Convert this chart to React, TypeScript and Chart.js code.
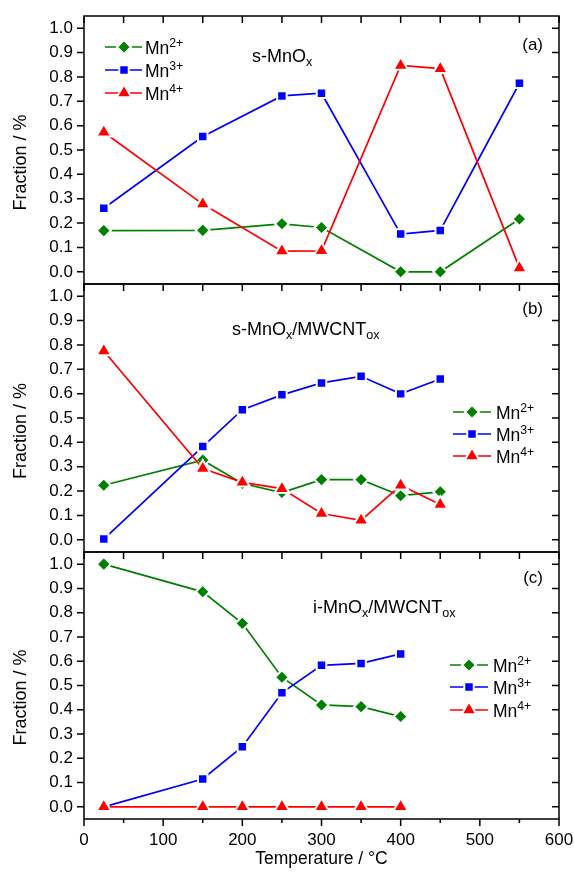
import React, { useEffect, useRef } from 'react';
import { Chart, registerables } from 'chart.js';

Chart.register(...registerables);

// ---------- data ----------
const X_TICKS = [0, 100, 200, 300, 400, 500, 600];
const X_MINOR_TICKS = [0, 50, 100, 150, 200, 250, 300, 350, 400, 450, 500, 550, 600];
const Y_TICKS = [0, 0.1, 0.2, 0.3, 0.4, 0.5, 0.6, 0.7, 0.8, 0.9, 1.0];

const TEMP_A = [25, 150, 250, 300, 400, 450, 550];
const MN2_A = [0.169, 0.17, 0.197, 0.182, 0.0, 0.0, 0.217];
const MN3_A = [0.261, 0.555, 0.722, 0.733, 0.155, 0.17, 0.774];
const MN4_A = [0.573, 0.278, 0.085, 0.086, 0.847, 0.834, 0.016];

const TEMP_B = [25, 150, 200, 250, 300, 350, 400, 450];
const MN2_B = [0.224, 0.327, 0.231, 0.194, 0.247, 0.247, 0.181, 0.197];
const MN3_B = [0.003, 0.383, 0.534, 0.595, 0.644, 0.671, 0.599, 0.66];
const MN4_B = [0.775, 0.293, 0.236, 0.21, 0.108, 0.08, 0.224, 0.145];

const TEMP_C = [25, 150, 200, 250, 300, 350, 400];
const MN2_C = [1.0, 0.886, 0.756, 0.534, 0.42, 0.413, 0.372];
const MN3_C = [0.0, 0.115, 0.248, 0.47, 0.583, 0.591, 0.63];
const MN4_C = [0, 0, 0, 0, 0, 0, 0];

const SERIES_CHARGES = ['2+', '3+', '4+'];
const PANEL_LABELS = ['(a)', '(b)', '(c)'];
const TITLE_A = [{ t: 's-MnO' }, { t: 'x', k: 'sub' }];
const TITLE_B = [{ t: 's-MnO' }, { t: 'x', k: 'sub' }, { t: '/MWCNT' }, { t: 'ox', k: 'sub' }];
const TITLE_C = [{ t: 'i-MnO' }, { t: 'x', k: 'sub' }, { t: '/MWCNT' }, { t: 'ox', k: 'sub' }];
const Y_TITLE = 'Fraction / %';
const X_TITLE = 'Temperature / °C';

// ---------- styles / layout ----------
const W = 574;
const H = 875;
const FONT = "'Liberation Sans', Arial, Helvetica, sans-serif";
const COLORS = ['#008000', '#0000ff', '#ff0000'];
const STYLES = ['rectRot', 'rect', 'triangle'];
const RADII = [7, 6.7, 8.5];
const LINE_W = 1.7;

type Part = { t: string; k?: 'sup' | 'sub' };

const LAYOUT = [
  {
    top: 16, bottom: 284, showX: false,
    labelY: 45, titleX: 252, titleY: 56,
    legX0: 105, legX1: 142, legMX: 124, legTX: 145, legY: [47, 70, 93],
    yTitleY: 162.5,
  },
  {
    top: 284, bottom: 552, showX: false,
    labelY: 309, titleX: 232, titleY: 329,
    legX0: 453, legX1: 491, legMX: 472, legTX: 496, legY: [412, 434, 456],
    yTitleY: 431,
  },
  {
    top: 552, bottom: 819, showX: true,
    labelY: 578, titleX: 313, titleY: 607,
    legX0: 450, legX1: 488, legMX: 469, legTX: 493, legY: [665, 687, 710],
    yTitleY: 697.5,
  },
];

const PANEL_DATA = [
  { temps: TEMP_A, series: [MN2_A, MN3_A, MN4_A], title: TITLE_A as Part[] },
  { temps: TEMP_B, series: [MN2_B, MN3_B, MN4_B], title: TITLE_B as Part[] },
  { temps: TEMP_C, series: [MN2_C, MN3_C, MN4_C], title: TITLE_C as Part[] },
];

const X_AXIS_H = 40;

function drawRich(ctx: CanvasRenderingContext2D, parts: Part[], x: number, baseline: number, size: number) {
  let cx = x;
  ctx.textAlign = 'left';
  ctx.textBaseline = 'alphabetic';
  for (const p of parts) {
    const s = p.k ? size * 0.7 : size;
    ctx.font = `${s}px ${FONT}`;
    const dy = p.k === 'sup' ? -size * 0.38 : p.k === 'sub' ? size * 0.22 : 0;
    ctx.fillText(p.t, cx, baseline + dy);
    cx += ctx.measureText(p.t).width;
  }
}

function drawMarker(ctx: CanvasRenderingContext2D, style: string, x: number, y: number, r: number, color: string) {
  ctx.beginPath();
  if (style === 'rectRot') {
    ctx.moveTo(x - r, y);
    ctx.lineTo(x, y - r);
    ctx.lineTo(x + r, y);
    ctx.lineTo(x, y + r);
  } else if (style === 'rect') {
    const s = r * Math.SQRT1_2;
    ctx.rect(x - s, y - s, 2 * s, 2 * s);
  } else {
    let a = 0;
    ctx.moveTo(x + Math.sin(a) * r, y - Math.cos(a) * r);
    a += (2 * Math.PI) / 3;
    ctx.lineTo(x + Math.sin(a) * r, y - Math.cos(a) * r);
    a += (2 * Math.PI) / 3;
    ctx.lineTo(x + Math.sin(a) * r, y - Math.cos(a) * r);
  }
  ctx.closePath();
  ctx.fillStyle = color;
  ctx.fill();
  ctx.lineWidth = 2;
  ctx.strokeStyle = '#ffffff';
  ctx.stroke();
}

function makePlugin(idx: number) {
  const L = LAYOUT[idx];
  const D = PANEL_DATA[idx];
  return {
    id: 'frame' + idx,
    afterDraw(chart: any) {
      const { ctx, chartArea } = chart;
      const { left, right, top, bottom } = chartArea;
      const xs = chart.scales.x;
      const ys = chart.scales.y;
      ctx.save();
      // frame
      ctx.strokeStyle = '#000';
      ctx.lineWidth = 1.5;
      ctx.strokeRect(left, top, right - left, bottom - top);
      ctx.beginPath();
      for (const v of Y_TICKS) {
        const py = ys.getPixelForValue(v);
        ctx.moveTo(left - 7, py);
        ctx.lineTo(left, py);
        ctx.moveTo(right - 7, py);
        ctx.lineTo(right, py);
      }
      for (const v of X_MINOR_TICKS) {
        const px = xs.getPixelForValue(v);
        ctx.moveTo(px, top);
        ctx.lineTo(px, top + 7);
        if (L.showX) {
          ctx.moveTo(px, bottom);
          ctx.lineTo(px, bottom + (v % 100 === 0 ? 7 : 4));
        }
      }
      ctx.stroke();

      ctx.fillStyle = '#000';
      // panel label
      ctx.font = `17px ${FONT}`;
      ctx.textAlign = 'right';
      ctx.textBaseline = 'middle';
      ctx.fillText(PANEL_LABELS[idx], 543, L.labelY);
      // title
      ctx.fillStyle = '#000';
      drawRich(ctx, D.title, L.titleX, L.titleY + 6, 18);
      // legend
      for (let s = 0; s < 3; s++) {
        const y = L.legY[s];
        ctx.strokeStyle = COLORS[s];
        ctx.lineWidth = LINE_W;
        ctx.beginPath();
        ctx.moveTo(L.legX0, y);
        ctx.lineTo(L.legX1, y);
        ctx.stroke();
        drawMarker(ctx, STYLES[s], L.legMX, y, RADII[s], COLORS[s]);
        ctx.fillStyle = '#000';
        drawRich(ctx, [{ t: 'Mn' }, { t: SERIES_CHARGES[s], k: 'sup' }], L.legTX, y + 6.5, 17.5);
      }
      // y title
      ctx.save();
      ctx.translate(21.5, L.yTitleY);
      ctx.rotate(-Math.PI / 2);
      ctx.font = `18px ${FONT}`;
      ctx.textAlign = 'center';
      ctx.textBaseline = 'middle';
      ctx.fillStyle = '#000';
      ctx.fillText(Y_TITLE, 0, 0);
      ctx.restore();
      // x title
      if (L.showX) {
        ctx.font = `17.5px ${FONT}`;
        ctx.textAlign = 'center';
        ctx.textBaseline = 'middle';
        ctx.fillStyle = '#000';
        ctx.fillText(X_TITLE, (left + right) / 2, 859);
      }
      ctx.restore();
    },
  };
}

function Panel({ idx }: { idx: number }) {
  const ref = useRef<HTMLCanvasElement | null>(null);
  useEffect(() => {
    const L = LAYOUT[idx];
    const D = PANEL_DATA[idx];
    const datasets = D.series.map((vals, s) => ({
      label: 'Mn' + SERIES_CHARGES[s],
      data: D.temps.map((t, i) => ({ x: t, y: vals[i] })),
      order: 2 - s,
      borderColor: COLORS[s],
      backgroundColor: COLORS[s],
      borderWidth: LINE_W,
      pointStyle: STYLES[s],
      pointRadius: RADII[s],
      pointBackgroundColor: COLORS[s],
      pointBorderColor: '#ffffff',
      pointBorderWidth: 2,
      tension: 0,
      clip: false as any,
    }));
    const chart = new Chart(ref.current as HTMLCanvasElement, {
      type: 'line',
      data: { datasets },
      options: {
        animation: false,
        responsive: false,
        maintainAspectRatio: false,
        events: [],
        layout: {
          padding: {
            left: 0,
            right: W - 559,
            top: L.top,
            bottom: L.showX ? H - L.bottom - X_AXIS_H : H - L.bottom,
          },
        },
        plugins: {
          legend: { display: false },
          tooltip: { enabled: false },
          title: { display: false },
        },
        scales: {
          x: {
            type: 'linear',
            min: 0,
            max: 600,
            display: L.showX,
            afterBuildTicks: (s: any) => {
              s.ticks = X_TICKS.map((v) => ({ value: v }));
            },
            afterFit: (s: any) => {
              s.height = L.showX ? X_AXIS_H : 0;
              s.paddingLeft = 0;
              s.paddingRight = 0;
            },
            grid: { display: false, drawTicks: false },
            border: { display: false },
            ticks: {
              padding: 11,
              color: '#000',
              font: { family: FONT, size: 17 },
              maxRotation: 0,
              autoSkip: false,
              callback: (v: any) => String(v),
            },
          },
          y: {
            type: 'linear',
            min: -0.05,
            max: 1.05,
            afterBuildTicks: (s: any) => {
              s.ticks = Y_TICKS.map((v) => ({ value: v }));
            },
            afterFit: (s: any) => {
              s.width = 84;
              s.paddingTop = 0;
              s.paddingBottom = 0;
            },
            grid: { display: false, drawTicks: false },
            border: { display: false },
            ticks: {
              padding: 11,
              color: '#000',
              font: { family: FONT, size: 17 },
              autoSkip: false,
              callback: (v: any) => Number(v).toFixed(1),
            },
          },
        },
      },
      plugins: [makePlugin(idx)],
    } as any);
    return () => chart.destroy();
  }, [idx]);
  return (
    <canvas
      ref={ref}
      width={W}
      height={H}
      style={{ position: 'absolute', left: 0, top: 0, width: W, height: H }}
    />
  );
}

export default function App() {
  return (
    <div
      style={{
        position: 'absolute',
        left: 0,
        top: 0,
        width: W,
        height: H,
        overflow: 'hidden',
        background: '#fff',
      }}
    >
      <Panel idx={0} />
      <Panel idx={1} />
      <Panel idx={2} />
    </div>
  );
}
